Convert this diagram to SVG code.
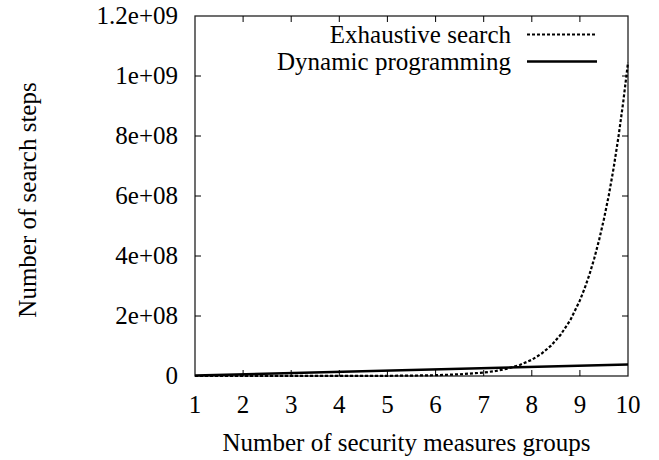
<svg xmlns="http://www.w3.org/2000/svg" width="659" height="460" viewBox="0 0 659 460" font-family="Liberation Serif, Times New Roman, serif">
<style>
text{font-size:25px;fill:#000}
.ylab{text-anchor:end}
.xlab{text-anchor:middle}
.tick{stroke:#000;stroke-width:1;fill:none}
.frame{stroke:#222;stroke-width:1.3;fill:none}
.exh{stroke:#000;stroke-width:2.2;fill:none;stroke-dasharray:3 2}
.dp{stroke:#000;stroke-width:2.4;fill:none}
</style>
<rect width="659" height="460" fill="#fff"/>
<g id="frame">
<rect class="frame" x="195" y="16" width="433" height="360"/>
</g>
<g id="ticks">
<path class="tick" d="M195,76h6M195,136h6M195,196h6M195,256h6M195,316h6M628,76h-6M628,136h-6M628,196h-6M628,256h-6M628,316h-6"/>
<path class="tick" d="M243.1,376v-6M291.2,376v-6M339.3,376v-6M387.4,376v-6M435.6,376v-6M483.7,376v-6M531.8,376v-6M579.9,376v-6M243.1,16v6M291.2,16v6M339.3,16v6M387.4,16v6M435.6,16v6M483.7,16v6M531.8,16v6M579.9,16v6"/>
</g>
<g id="y-labels">
<text class="ylab" x="178" y="24">1.2e+09</text>
<text class="ylab" x="178" y="84">1e+09</text>
<text class="ylab" x="178" y="144">8e+08</text>
<text class="ylab" x="178" y="204">6e+08</text>
<text class="ylab" x="178" y="264">4e+08</text>
<text class="ylab" x="178" y="324">2e+08</text>
<text class="ylab" x="178" y="384">0</text>
</g>
<g id="x-labels">
<text class="xlab" x="195" y="413">1</text>
<text class="xlab" x="243.1" y="413">2</text>
<text class="xlab" x="291.2" y="413">3</text>
<text class="xlab" x="339.3" y="413">4</text>
<text class="xlab" x="387.4" y="413">5</text>
<text class="xlab" x="435.6" y="413">6</text>
<text class="xlab" x="483.7" y="413">7</text>
<text class="xlab" x="531.8" y="413">8</text>
<text class="xlab" x="579.9" y="413">9</text>
<text class="xlab" x="628" y="413">10</text>
</g>
<g id="titles">
<text class="xlab" x="406.5" y="451">Number of security measures groups</text>
<text class="xlab" transform="translate(36,200) rotate(-90)">Number of search steps</text>
</g>
<g id="legend">
<text class="ylab" x="511" y="43">Exhaustive search</text>
<line class="exh" x1="527" y1="34.5" x2="597" y2="34.5"/>
<text class="ylab" x="511" y="70">Dynamic programming</text>
<line class="dp" x1="527" y1="61.5" x2="597" y2="61.5"/>
</g>
<g id="curves">
<polyline class="exh" points="195,376 387.4,375.8 411.5,375.6 435.6,375.2 459.6,374.3 483.7,372.6 495.7,371 507.7,368.6 519.8,365 531.8,359.8 541.4,353.8 551,345.7 560.6,334.8 570.3,320.2 579.9,300.4 584.7,288.2 589.5,274.3 594.3,258.3 599.1,240 603.9,219.2 608.8,195.3 613.6,168.2 618.4,137.3 623.2,102.3 628,62.5"/>
<line class="dp" x1="195" y1="375.5" x2="628" y2="364.5"/>
</g>
</svg>
